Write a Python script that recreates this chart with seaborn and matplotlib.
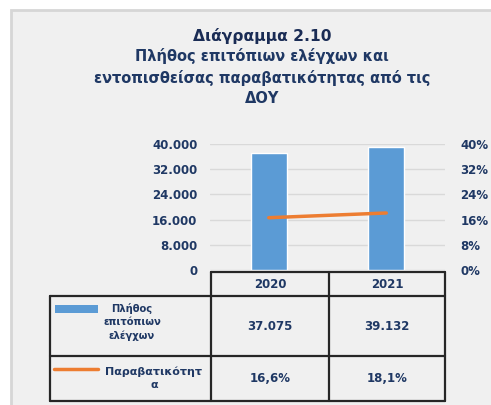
import numpy as np
import pandas as pd
import seaborn as sns
import matplotlib.pyplot as plt
from matplotlib.patches import Rectangle
from matplotlib.lines import Line2D
from matplotlib.ticker import FuncFormatter

# data
years = ['2020', '2021']
checks = [37075, 39132]
violation_rate = [16.6, 18.1]
checks_labels = ['37.075', '39.132']
rate_labels = ['16,6%', '18,1%']
series_names = ['Πλήθος\nεπιτόπιων\nελέγχων', 'Παραβατικότητ\nα']

navy = '#1f3864'
bar_color = '#5b9bd5'
line_color = '#ed7d31'
bg = '#f0f0f0'

sns.set_style('white')
plt.rcParams['font.family'] = ['DejaVu Sans']

W, H = 491, 405
fig = plt.figure(figsize=(W / 100, H / 100), dpi=100)
fig.patch.set_facecolor('white')


def fx(px):
    return px / W


def fy(py):
    return 1 - py / H


# grey panel (only top and left edges visible)
fig.add_artist(Rectangle((fx(11), -0.05), 1.05 - fx(11), fy(10) + 0.05, transform=fig.transFigure,
                         facecolor=bg, edgecolor='#d6d6d6', linewidth=2.0, zorder=0))

# titles
fig.text(fx(262), fy(36), 'Διάγραμμα 2.10', ha='center', va='center',
         fontsize=11.2, fontweight='bold', color='#1a2c55')
fig.text(fx(262), fy(77), 'Πλήθος επιτόπιων ελέγχων και\nεντοπισθείσας παραβατικότητας από τις\nΔΟΥ',
         ha='center', va='center', fontsize=10.5, fontweight='bold', color=navy,
         linespacing=1.45)

# chart axes
ax = fig.add_axes([fx(210), fy(270), fx(445) - fx(210), fy(144) - fy(270)])
ax.set_facecolor(bg)
df = pd.DataFrame({'year': years, 'checks': checks, 'rate': violation_rate})
sns.barplot(data=df, x='year', y='checks', color=bar_color, width=0.31,
            saturation=1, ax=ax, zorder=3)
ax.set_ylim(0, 40000)
ax.set_yticks(np.arange(0, 40001, 8000))
ax.yaxis.set_major_formatter(FuncFormatter(lambda v, p: f'{int(v):,}'.replace(',', '.')))
ax.grid(axis='y', color='#d9d9d9', linewidth=1, zorder=0)
ax.set_axisbelow(True)
ax.set_xlim(-0.5, 1.5)
ax.set_xticks([])
ax.set_xlabel('')
ax.set_ylabel('')
for s in ax.spines.values():
    s.set_visible(False)
ax.tick_params(axis='y', length=0, pad=9, labelsize=8.5, labelcolor=navy)
for t in ax.get_yticklabels():
    t.set_fontweight('bold')

ax2 = ax.twinx()
sns.lineplot(x=[0, 1], y=df['rate'].values, color=line_color, linewidth=2.5, ax=ax2)
ax2.set_ylim(0, 40)
ax2.set_yticks(np.arange(0, 41, 8))
ax2.yaxis.set_major_formatter(FuncFormatter(lambda v, p: f'{int(v)}%'))
for s in ax2.spines.values():
    s.set_visible(False)
ax2.tick_params(axis='y', length=0, pad=11, labelsize=8.5, labelcolor=navy)
for t in ax2.get_yticklabels():
    t.set_fontweight('bold')
ax2.set_xlim(-0.5, 1.5)

# data table
lc = '#262626'
lw = 1.6


def hline(x0, x1, y):
    fig.add_artist(Line2D([fx(x0), fx(x1)], [fy(y), fy(y)], color=lc, linewidth=lw))


def vline(x, y0, y1):
    fig.add_artist(Line2D([fx(x), fx(x)], [fy(y0), fy(y1)], color=lc, linewidth=lw))


hline(211, 445, 272)
hline(50, 445, 296)
hline(50, 445, 356)
hline(50, 445, 401)
vline(50, 296, 401)
vline(211, 272, 401)
vline(329, 272, 401)
vline(445, 272, 401)

centers = [270, 387]
for cx, yr in zip(centers, years):
    fig.text(fx(cx), fy(284), yr, ha='center', va='center', fontsize=8.5,
             fontweight='bold', color=navy)
for cx, v in zip(centers, checks_labels):
    fig.text(fx(cx), fy(326), v, ha='center', va='center', fontsize=8.5,
             fontweight='bold', color=navy)
for cx, v in zip(centers, rate_labels):
    fig.text(fx(cx), fy(379), v, ha='center', va='center', fontsize=8.5,
             fontweight='bold', color=navy)

# legend keys inside table
fig.add_artist(Rectangle((fx(55), fy(313)), fx(43), fy(305) - fy(313),
                         transform=fig.transFigure, facecolor=bar_color, edgecolor='none'))
fig.add_artist(Line2D([fx(54), fx(98)], [fy(369), fy(369)], color=line_color, linewidth=2.5))
fig.text(fx(132), fy(322), series_names[0], ha='center', va='center', fontsize=7.2,
         fontweight='bold', color=navy, linespacing=1.4)
fig.text(fx(154), fy(378), series_names[1], ha='center', va='center', fontsize=8,
         fontweight='bold', color=navy, linespacing=1.4)

fig.savefig('out.png', dpi=100, facecolor=fig.get_facecolor())
